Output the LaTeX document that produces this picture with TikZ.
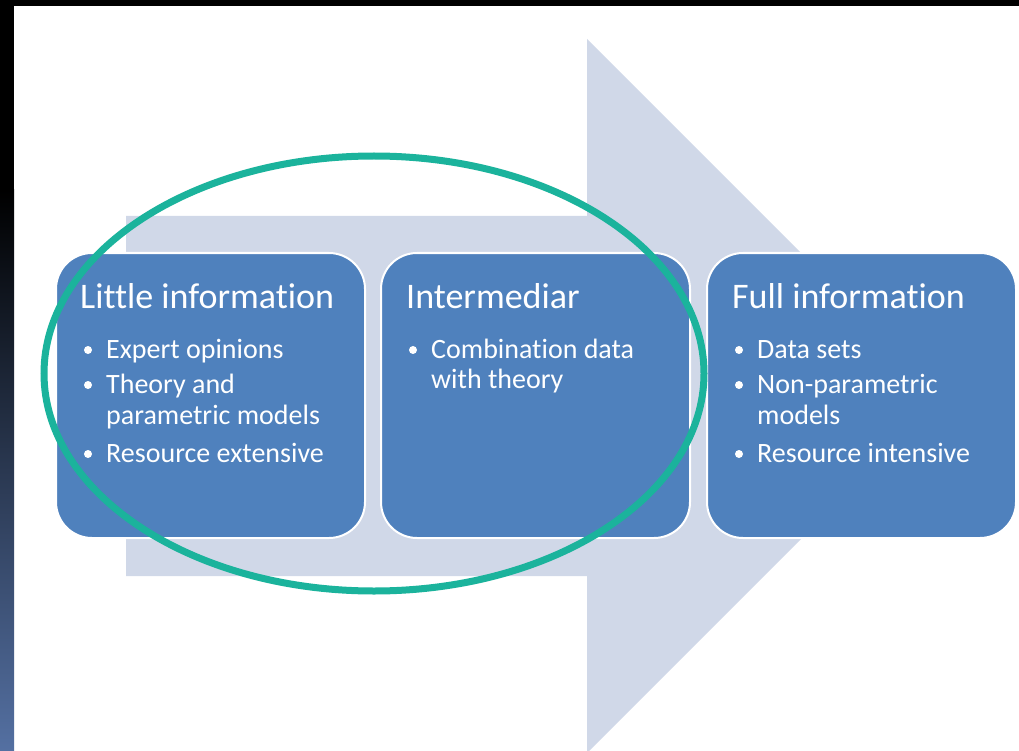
\documentclass[tikz,border=0pt]{standalone}
\usepackage{fontspec}
\setmainfont{Carlito}[RawFeature={-liga;-clig;-dlig;-calt}]
\definecolor{boxblue}{HTML}{4F81BD}
\definecolor{arrowgrey}{HTML}{D0D8E8}
\definecolor{teal}{HTML}{1BB39C}
\definecolor{bandblue}{HTML}{5470A2}
\tikzset{
  box/.style={draw=white, line width=2pt, fill=boxblue, rounded corners=36pt,
    minimum width=309pt, minimum height=285pt, inner sep=0pt},
  title/.style={anchor=base west, inner sep=0pt, text=white,
    font=\fontsize{36}{43}\selectfont},
  item/.style={anchor=base west, inner sep=0pt, text=white,
    font=\fontsize{28}{31}\selectfont},
  dot/.style={circle, fill=white, inner sep=0pt, minimum size=8pt},
}
\begin{document}
\begin{tikzpicture}[x=1pt,y=-1pt]
\useasboundingbox (0,0) rectangle (1019,751);
\clip (0,0) rectangle (1019,751);
\fill[white] (0,0) rectangle (1019,751);
% frame bands
\fill[black] (0,0) rectangle (1019,6);
\fill[black] (0,0) rectangle (14,190);
\shade[top color=black, bottom color=bandblue] (0,190) rectangle (14,751);
% big arrow
\fill[arrowgrey] (126,216) -- (587,216) -- (587,39) -- (944,396) -- (587,753)
  -- (587,576) -- (126,576) -- cycle;
% boxes
\node[box] (b1) at (210.5,395.5) {};
\node[box] (b2) at (535.5,395.5) {};
\node[box] (b3) at (861.5,395.5) {};
% box 1
\node[title] (t1) at (80,308) {Little information};
\node[dot] (d11) at (88,350) {};
\node[item] (i11) at (106,358) {Expert opinions};
\node[dot] (d12) at (88,385) {};
\node[item] (i12) at (106,393) {Theory and};
\node[item] (i12b) at (106,424) {parametric models};
\node[dot] (d13) at (88,454) {};
\node[item] (i13) at (106,462) {Resource extensive};
% box 2
\node[title] (t2) at (406,308) {Intermediar};
\node[dot] (d21) at (413,350) {};
\node[item] (i21) at (431,358) {Combination data};
\node[item] (i21b) at (431,388) {with theory};
% box 3
\node[title] (t3) at (732,308) {Full information};
\node[dot] (d31) at (739,350) {};
\node[item] (i31) at (757,358) {Data sets};
\node[dot] (d32) at (739,385) {};
\node[item] (i32) at (757,393) {Non-parametric};
\node[item] (i32b) at (757,424) {models};
\node[dot] (d33) at (739,454) {};
\node[item] (i33) at (757,462) {Resource intensive};
% ellipse
\draw[teal, line width=7pt] (374,373.5) ellipse [x radius=330, y radius=217.5];
\end{tikzpicture}
\end{document}
